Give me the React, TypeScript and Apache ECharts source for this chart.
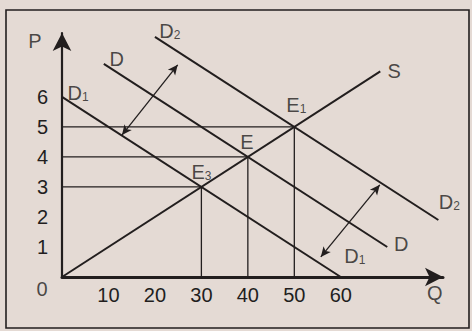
import React, { useEffect, useRef } from "react";
import * as echarts from "echarts";

// ---- data ----
const xTickValues = [10, 20, 30, 40, 50, 60];
const yTickValues = [1, 2, 3, 4, 5, 6];
const supplyS = [[0, 0], [68.5, 6.85]];
const demandD1 = [[0, 6], [60, 0]];
const demandD = [[9, 7.1], [70, 1]];
const demandD2 = [[20, 8], [81, 1.9]];
const eqQ = [30, 40, 50];
const eqP = [3, 4, 5];
const eqLabels = ["{m|E}{s|3}", "{m|E}", "{m|E}{s|1}"];
const shiftUp = [[12.9, 4.73], [24.9, 7.07]];
const shiftDown = [[55.7, 0.67], [68.4, 3.07]];

const INK = "#221e1e";
const FONT = "Liberation Sans";

export default function App() {
  const ref = useRef<HTMLDivElement>(null);
  useEffect(() => {
    const chart = echarts.init(ref.current!, null, { renderer: "svg" });
    const curve = (name: string, data: number[][]) => ({
      name,
      type: "line",
      data,
      clip: false,
      symbol: "none",
      silent: true,
      lineStyle: { color: INK, width: 2 },
      z: 3,
    });
    const guides = eqQ.map((q, i) => ({
      type: "line",
      data: [[0, eqP[i]], [q, eqP[i]], [q, 0]],
      symbol: "none",
      silent: true,
      clip: false,
      lineStyle: { color: INK, width: 1.3 },
      z: 2,
    }));
    const lbl = (value: number[], formatter: string, offset: number[]) => ({
      value,
      label: { formatter, offset },
    });
    const labelData = [
      lbl(demandD2[0], "{m|D}{s|2}", [15, -6]),
      lbl(demandD[0], "{m|D}", [13, -5]),
      lbl(demandD1[0], "{m|D}{s|1}", [16, -4]),
      lbl(supplyS[1], "{m|S}", [14, 0]),
      lbl(demandD2[1], "{m|D}{s|2}", [11, -18]),
      lbl(demandD[1], "{m|D}", [14, -3]),
      lbl(demandD1[1], "{m|D}{s|1}", [14, -21]),
      ...eqQ.map((q, i) =>
        lbl([q, eqP[i]], eqLabels[i], i === 0 ? [0, -15] : i === 1 ? [-1, -15] : [2, -22])
      ),
      lbl([0, 0], "{m|0}", [-20, 12]),
      lbl([80, 0], "{m|Q}", [1, 16]),
      lbl([0, 7.8], "{m|P}", [-27, -2]),
    ];
    chart.setOption({
      animation: false,
      backgroundColor: "#e4dad4",
      grid: { left: 62, right: 29, top: 33, bottom: 54, containLabel: false },
      xAxis: {
        type: "value",
        min: 0,
        max: 82,
        interval: 10,
        splitLine: { show: false },
        axisTick: { show: false },
        axisLine: {
          show: true,
          symbol: ["none", "arrow"],
          symbolSize: [14, 18],
          lineStyle: { color: INK, width: 3 },
        },
        axisLabel: {
          color: INK,
          fontSize: 20,
          fontFamily: FONT,
          margin: 8,
          showMaxLabel: false,
          formatter: (v: number) => (xTickValues.includes(v) ? String(v) : ""),
        },
      },
      yAxis: {
        type: "value",
        min: 0,
        max: 8.13,
        interval: 1,
        splitLine: { show: false },
        axisTick: { show: false },
        axisLine: {
          show: true,
          symbol: ["none", "arrow"],
          symbolSize: [14, 18],
          lineStyle: { color: INK, width: 2.2 },
        },
        axisLabel: {
          color: INK,
          fontSize: 20,
          fontFamily: FONT,
          margin: 14,
          showMaxLabel: false,
          formatter: (v: number) => (yTickValues.includes(v) ? String(v) : ""),
        },
      },
      graphic: [
        {
          type: "rect",
          shape: { x: 6, y: 10, width: 463, height: 318 },
          style: { fill: "none", stroke: INK, lineWidth: 1.6 },
          silent: true,
        },
      ],
      series: [
        ...guides,
        {
          ...curve("S", supplyS),
          markLine: {
            silent: true,
            symbol: ["arrow", "arrow"],
            symbolSize: [7, 10],
            label: { show: false },
            lineStyle: { color: INK, width: 1.3, type: "solid" },
            data: [
              [{ coord: shiftUp[0] }, { coord: shiftUp[1] }],
              [{ coord: shiftDown[0] }, { coord: shiftDown[1] }],
            ],
          },
        },
        curve("D1", demandD1),
        curve("D", demandD),
        curve("D2", demandD2),
        {
          type: "scatter",
          symbolSize: 0,
          silent: true,
          clip: false,
          z: 5,
          label: {
            show: true,
            position: "inside",
            color: INK,
            fontFamily: FONT,
            rich: {
              m: { fontSize: 20, fontFamily: FONT, color: INK, lineHeight: 20 },
              s: { fontSize: 12, fontFamily: FONT, color: INK, lineHeight: 12, verticalAlign: "bottom" },
            },
          },
          data: labelData,
        },
      ],
    });
    return () => chart.dispose();
  }, []);
  return (
    <div
      ref={ref}
      style={{ position: "fixed", left: 0, top: 0, width: 472, height: 331 }}
    />
  );
}
